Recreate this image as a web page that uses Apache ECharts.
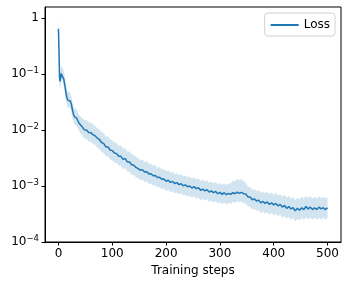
<!DOCTYPE html>
<html><head><meta charset="utf-8">
<script src="https://cdn.jsdelivr.net/npm/echarts@6/dist/echarts.min.js"></script>
<style>html,body{margin:0;padding:0;background:#fff}#c{width:349px;height:287px}</style>
</head><body><div id="c"></div>
<script>
const steps = [0,1,2,3,4,5,6,8,10,12,14,16,18,20,22,24,26,28,30,32,34,36,38,40,
44,48,52,56,60,64,68,72,76,80,84,88,92,96,100,104,108,112,116,120,124,128,132,136,140,144,148,
152,156,160,164,168,172,176,180,184,188,192,196,200,204,208,212,216,220,224,228,232,236,240,244,248,
252,256,260,264,268,272,276,280,284,288,292,296,300,304,308,312,316,320,324,328,332,336,340,344,348,
352,356,360,364,368,372,376,380,384,388,392,396,400,404,408,412,416,420,424,428,432,436,440,444,448,
452,456,460,464,468,472,476,480,484,488,492,496,500];
const lossMean = [0.65,0.26,0.088,0.074,0.086,0.102,0.106,0.098,0.081,0.062,0.046,0.037,0.034,0.036,0.033,0.029,0.023,0.019,0.0172,0.0175,0.0163,0.0152,0.0134,0.0126,
0.0115,0.0101,0.0100,0.0091,0.0090,0.0083,0.0079,0.0072,0.0068,0.0060,0.0058,0.0050,0.0050,0.0044,0.0043,0.0039,0.0038,0.0034,0.0034,0.0030,0.0031,0.0027,0.0027,0.0024,0.00235,0.00215,0.00205,
0.00192,0.00195,0.00178,0.0018,0.00165,0.00166,0.00153,0.00154,0.00142,0.00144,0.00132,0.00134,0.00122,0.00127,0.00116,0.00121,0.00111,0.00115,0.00106,0.0011,0.00101,0.00105,0.00097,0.001,0.00092,
0.00098,0.0009,0.00093,0.00084,0.00088,0.00082,0.00086,0.00078,0.00082,0.00076,0.0008,0.00073,0.00077,0.00071,0.00076,0.0007,0.00074,0.00071,0.00076,0.00073,0.00078,0.00074,0.00077,0.00073,0.00072,
0.00064,0.00064,0.00057,0.00059,0.00054,0.00056,0.0005,0.00053,0.00049,0.00052,0.00047,0.0005,0.00046,0.00049,0.00044,0.00047,0.00042,0.00045,0.0004,0.00043,0.00039,0.00041,0.00036,0.0004,0.00037,
0.00041,0.00038,0.00043,0.00039,0.00042,0.00038,0.00041,0.00038,0.00042,0.00039,0.00041,0.00038,0.00041];
const lossUpper = [1.0,0.42,0.125,0.1,0.115,0.135,0.14,0.13,0.108,0.085,0.064,0.052,0.047,0.049,0.045,0.04,0.032,0.027,0.024,0.024,0.023,0.021,0.019,0.018,
0.0165,0.0152,0.015,0.0138,0.0136,0.0127,0.012,0.0109,0.0104,0.0092,0.0089,0.0077,0.0077,0.0068,0.0066,0.006,0.0059,0.0052,0.0053,0.0046,0.0048,0.0041,0.0042,0.0037,0.0036,0.0033,0.0032,
0.0029,0.003,0.0027,0.0028,0.0025,0.0025,0.0023,0.0024,0.0021,0.0022,0.002,0.002,0.00183,0.0019,0.00172,0.0018,0.00165,0.0017,0.00157,0.00163,0.0015,0.00155,0.00143,0.00148,0.00136,
0.00144,0.00132,0.00137,0.00124,0.0013,0.0012,0.00127,0.00115,0.0012,0.00112,0.00118,0.00108,0.00113,0.00105,0.00112,0.00104,0.0011,0.00112,0.00124,0.00122,0.00134,0.00128,0.00132,0.00122,0.00116,
0.00098,0.00096,0.00086,0.00089,0.00081,0.00085,0.00076,0.0008,0.00075,0.00079,0.00072,0.00077,0.0007,0.00075,0.00068,0.00072,0.00065,0.0007,0.00062,0.00067,0.0006,0.00064,0.00056,0.00062,0.00058,
0.00065,0.0006,0.00067,0.00061,0.00066,0.0006,0.00064,0.0006,0.00066,0.00061,0.00064,0.0006,0.00063];
const lossLower = [0.5,0.17,0.062,0.055,0.064,0.077,0.08,0.074,0.06,0.045,0.034,0.027,0.025,0.026,0.024,0.021,0.017,0.014,0.0125,0.0126,0.0118,0.011,0.0097,0.0091,
0.0081,0.0071,0.007,0.0063,0.0062,0.0057,0.0054,0.0049,0.0046,0.0041,0.0039,0.0034,0.0034,0.003,0.0029,0.0026,0.0026,0.0023,0.0023,0.002,0.0021,0.0018,0.0018,0.0016,0.00158,0.00144,0.00138,
0.00128,0.0013,0.00118,0.0012,0.0011,0.00111,0.00102,0.00103,0.00095,0.00096,0.00088,0.0009,0.00081,0.00085,0.00078,0.00081,0.00074,0.00077,0.00071,0.00074,0.00068,0.0007,0.00065,0.00067,0.00062,
0.00066,0.0006,0.00062,0.00056,0.00059,0.00055,0.00058,0.00052,0.00055,0.00051,0.00054,0.00049,0.00052,0.00048,0.00051,0.00047,0.0005,0.00048,0.00052,0.0005,0.00054,0.00051,0.00053,0.0005,0.00049,
0.00043,0.00043,0.00038,0.00039,0.00036,0.00037,0.00033,0.00035,0.00032,0.00034,0.00031,0.00033,0.0003,0.00032,0.00029,0.00031,0.00027,0.00029,0.00026,0.00028,0.00025,0.00027,0.00023,0.00026,0.00024,
0.00027,0.00025,0.00028,0.00025,0.00027,0.00025,0.00027,0.00025,0.00027,0.00025,0.00027,0.00025,0.00027];
const xTicks = [0,100,200,300,400,500];
const yTicks = [1e-4,1e-3,1e-2,1e-1,1];
const yTickExp = {'0.0001':'−4','0.001':'−3','0.01':'−2','0.1':'−1'};

const chart = echarts.init(document.getElementById('c'), null, {renderer:'canvas'});
const FONT = 'DejaVu Sans';
chart.setOption({
  animation:false,
  grid:{left:45,right:8,top:7,bottom:45,show:true,borderColor:'#000',borderWidth:1,backgroundColor:'transparent'},
  legend:{right:14,top:13,data:['Loss'],itemWidth:28,itemHeight:2,padding:[6,5,5,5],
    borderColor:'#d0d0d0',borderWidth:1,borderRadius:3,
    textStyle:{fontFamily:FONT,fontSize:12,color:'#000'}},
  xAxis:{type:'value',min:-25,max:525,
    name:'Training steps',nameLocation:'middle',nameGap:22,
    nameTextStyle:{fontFamily:FONT,fontSize:12,color:'#000'},
    axisLine:{onZero:false,lineStyle:{color:'#000',width:1}},
    axisTick:{show:true,length:3.5,customValues:xTicks,lineStyle:{color:'#000'}},
    axisLabel:{customValues:xTicks,fontFamily:FONT,fontSize:12,color:'#000',margin:6},
    splitLine:{show:false}},
  yAxis:{type:'log',logBase:10,min:1e-4,max:Math.pow(10,0.2),
    axisLine:{show:true,onZero:false,lineStyle:{color:'#000',width:1}},
    axisTick:{show:true,length:3.5,customValues:yTicks,lineStyle:{color:'#000'}},
    axisLabel:{customValues:yTicks,fontFamily:FONT,fontSize:12,color:'#000',margin:6,
      formatter:function(v){
        if (Math.abs(v-1)<1e-9) return '{b|1}';
        const k = Object.keys(yTickExp).find(s=>Math.abs(parseFloat(s)-v)/v<1e-6);
        return '{b|10}{s|'+yTickExp[k]+'}';
      },
      rich:{b:{fontFamily:FONT,fontSize:12,color:'#000'},
            s:{fontFamily:FONT,fontSize:8.5,color:'#000',padding:[0,0,7,0]}}},
    splitLine:{show:false}},
  series:[
    {type:'custom',name:'band',silent:true,clip:true,data:[[0,1]],
      renderItem:function(params,api){
        const pts=[];
        for(let i=0;i<steps.length;i++) pts.push(api.coord([steps[i],lossUpper[i]]));
        for(let i=steps.length-1;i>=0;i--) pts.push(api.coord([steps[i],lossLower[i]]));
        return {type:'polygon',shape:{points:pts},style:{fill:'rgba(31,119,180,0.2)',stroke:null}};
      },z:1},
    {type:'line',name:'Loss',data:steps.map((s,i)=>[s,lossMean[i]]),symbol:'none',
      lineStyle:{color:'#1f77b4',width:1.5},itemStyle:{color:'#1f77b4'},z:3}
  ]
});
</script></body></html>
